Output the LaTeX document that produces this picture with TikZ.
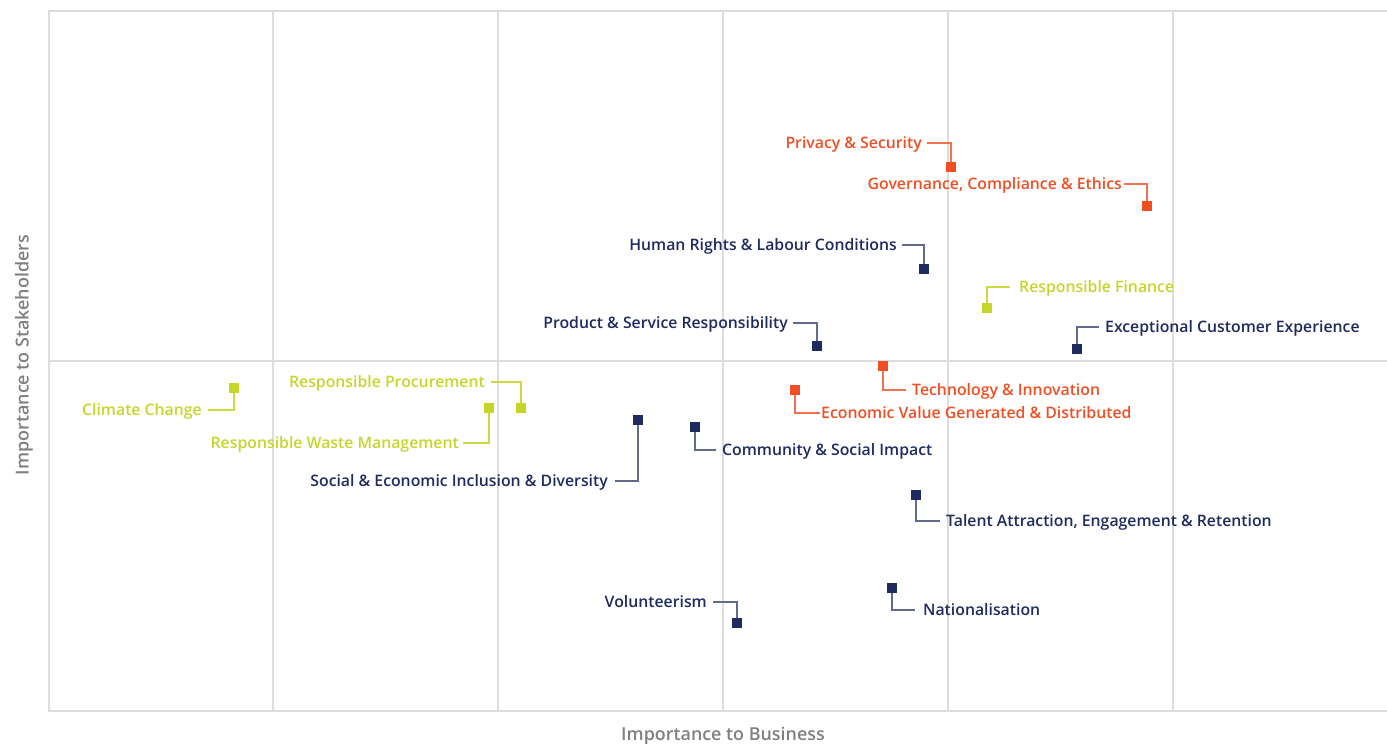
\documentclass[tikz,border=0pt]{standalone}
\usepackage{fontspec}
\setmainfont{Open Sans}
\IfFontExistsTF{Open Sans Semibold}{\newfontfamily\labfont{Open Sans Semibold}}{%
  \IfFontExistsTF{Open Sans SemiBold}{\newfontfamily\labfont{Open Sans SemiBold}}{%
    \newfontfamily\labfont{Open Sans}[FakeBold=1]}}
\definecolor{cO}{HTML}{F04E23}
\definecolor{cN}{HTML}{1F2A5E}
\definecolor{cL}{HTML}{C6D52A}
\definecolor{cG}{HTML}{DDDDDD}
\definecolor{cAx}{HTML}{808080}
\tikzset{
  grid/.style={draw=cG, line width=1.3pt},
  sq/.style={rectangle, minimum size=10pt, inner sep=0pt, draw=none},
  sqO/.style={sq, fill=cO},
  sqN/.style={sq, fill=cN},
  sqL/.style={sq, fill=cL},
  lab/.style={inner sep=0pt, text height=11.2pt, text depth=0pt, font=\labfont\fontsize{15.8}{18}\selectfont},
  labO/.style={lab, text=cO},
  labN/.style={lab, text=cN},
  labL/.style={lab, text=cL},
  ldO/.style={draw=cO!80, line width=1.1pt},
  ldN/.style={draw=cN!70, line width=1.1pt},
  ldL/.style={draw=cL!90, line width=1.1pt},
  axis/.style={inner sep=0pt, text=cAx, font=\labfont\fontsize{17.9}{20}\selectfont},
}
\begin{document}
\begin{tikzpicture}[x=1pt,y=-1pt]
\useasboundingbox (0,0) rectangle (1387,744);
% grid
\foreach \gx in {273,498,723,948,1173} \draw[grid] (\gx,11) -- (\gx,711);
\draw[grid] (49,361) -- (1387,361);
\draw[grid] (1387,11) -- (49,11) -- (49,711) -- (1387,711);
% axis titles
\node[axis] (xt) at (723,736) {Importance to Business};
\node[axis, rotate=90] (yt) at (24,355) {Importance to Stakeholders};

% orange
\node[sqO] (s1) at (951,167) {};
\node[labO, anchor=east] (l1) at (922,143) {Privacy \& Security};
\draw[ldO] ([xshift=5pt]l1.east) -| (s1.north);

\node[sqO] (s2) at (1147,206) {};
\node[labO, anchor=east] (l2) at (1122,184) {Governance, Compliance \& Ethics};
\draw[ldO] ([xshift=2pt]l2.east) -| (s2.north);

\node[sqO] (s3) at (883,366) {};
\node[labO, anchor=west] (l3) at (912,390) {Technology \& Innovation};
\draw[ldO] (s3.south) |- ([xshift=-6pt]l3.west);

\node[sqO] (s4) at (795,390) {};
\node[labO, anchor=west] (l4) at (821,413) {Economic Value Generated \& Distributed};
\draw[ldO] (s4.south) |- ([xshift=-1pt]l4.west);

% navy
\node[sqN] (s5) at (924,269) {};
\node[labN, anchor=east] (l5) at (897,245) {Human Rights \& Labour Conditions};
\draw[ldN] ([xshift=5pt]l5.east) -| (s5.north);

\node[sqN] (s6) at (817,346) {};
\node[labN, anchor=east] (l6) at (788,323) {Product \& Service Responsibility};
\draw[ldN] ([xshift=5pt]l6.east) -| (s6.north);

\node[sqN] (s7) at (1077,349) {};
\node[labN, anchor=west] (l7) at (1105,327) {Exceptional Customer Experience};
\draw[ldN] (s7.north) |- ([xshift=-6pt]l7.west);

\node[sqN] (s8) at (638,420) {};
\node[labN, anchor=east] (l8) at (608,481) {Social \& Economic Inclusion \& Diversity};
\draw[ldN] (s8.south) |- ([xshift=7pt]l8.east);

\node[sqN] (s9) at (695,427) {};
\node[labN, anchor=west] (l9) at (722,450) {Community \& Social Impact};
\draw[ldN] (s9.south) |- ([xshift=-6pt]l9.west);

\node[sqN] (s10) at (916,495) {};
\node[labN, anchor=west] (l10) at (946,521) {Talent Attraction, Engagement \& Retention};
\draw[ldN] (s10.south) |- ([xshift=-6pt]l10.west);

\node[sqN] (s11) at (892,588) {};
\node[labN, anchor=west] (l11) at (923,610) {Nationalisation};
\draw[ldN] (s11.south) |- ([xshift=-8pt]l11.west);

\node[sqN] (s12) at (737,623) {};
\node[labN, anchor=east] (l12) at (707,602) {Volunteerism};
\draw[ldN] ([xshift=6pt]l12.east) -| (s12.north);

% lime
\node[sqL] (s13) at (987,308) {};
\node[labL, anchor=west] (l13) at (1019,287) {Responsible Finance};
\draw[ldL] (s13.north) |- ([xshift=-9pt]l13.west);

\node[sqL] (s14) at (234,388) {};
\node[labL, anchor=east] (l14) at (202,410) {Climate Change};
\draw[ldL] (s14.south) |- ([xshift=6pt]l14.east);

\node[sqL] (s15) at (521,408) {};
\node[labL, anchor=east] (l15) at (485,382) {Responsible Procurement};
\draw[ldL] ([xshift=6pt]l15.east) -| (s15.north);

\node[sqL] (s16) at (489,408) {};
\node[labL, anchor=east] (l16) at (459,443) {Responsible Waste Management};
\draw[ldL] (s16.south) |- ([xshift=4pt]l16.east);
\end{tikzpicture}
\end{document}
